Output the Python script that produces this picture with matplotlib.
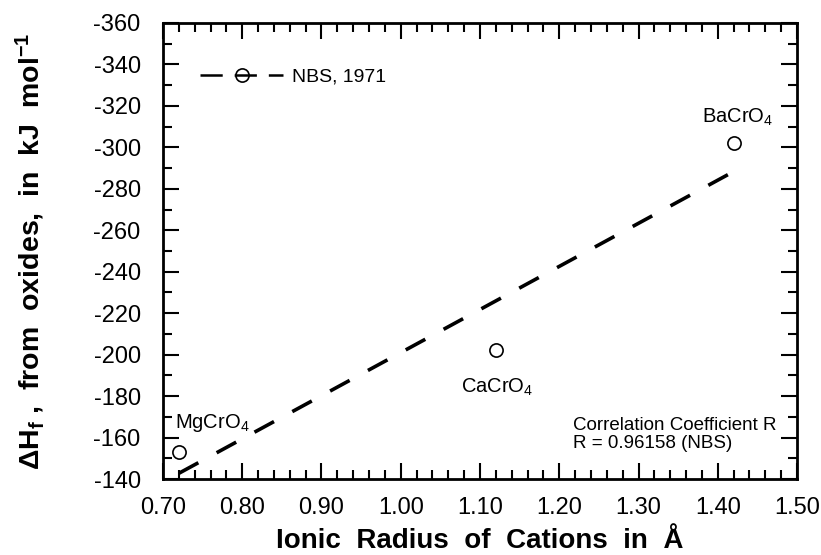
import matplotlib
matplotlib.use("Agg")
import matplotlib.pyplot as plt
from matplotlib.lines import Line2D
from matplotlib.ticker import MultipleLocator, FormatStrFormatter
import numpy as np

plt.rcParams["font.family"] = ["Liberation Sans", "DejaVu Sans"]
plt.rcParams["mathtext.default"] = "regular"
plt.rcParams["axes.unicode_minus"] = False

# ---------------------------------------------------------------------------
# Data
# ---------------------------------------------------------------------------
radius = [0.72, 1.12, 1.42]          # ionic radius of cation, Angstrom
dH_ox = [-153, -202, -302]           # enthalpy of formation from oxides, kJ/mol
compounds = ["MgCrO$_4$", "CaCrO$_4$", "BaCrO$_4$"]
R_TEXT = "Correlation Coefficient R\nR = 0.96158 (NBS)"
SERIES = "NBS, 1971"

# least-squares line through the three points
slope, icpt = np.polyfit(radius, dH_ox, 1)
x_fit = np.array([min(radius), max(radius)])
y_fit = slope * x_fit + icpt

# ---------------------------------------------------------------------------
# Figure
# ---------------------------------------------------------------------------
fig = plt.figure(figsize=(8.21, 5.55), dpi=100)
ax = fig.add_axes([0.1985, 0.1369, 0.7723, 0.8217])

lw_fit = 2.6
ax.plot(x_fit, y_fit, color="black", linewidth=lw_fit,
        dashes=(16.0 / lw_fit, 15.0 / lw_fit), solid_capstyle="butt")
ax.plot(radius, dH_ox, linestyle="none", marker="o", markersize=9.5,
        markerfacecolor="none", markeredgecolor="black", markeredgewidth=1.2)

# compound labels (offsets in points from each point)
offsets = [(-3, 17, "left", "baseline"),
           (1, -19, "center", "top"),
           (3, 15, "center", "baseline")]
for x, y, name, (dx, dy, ha, va) in zip(radius, dH_ox, compounds, offsets):
    ax.annotate(name, (x, y), xytext=(dx, dy), textcoords="offset points",
                ha=ha, va=va, fontsize=14.5)

ax.text(0.646, 0.097, R_TEXT, transform=ax.transAxes, ha="left", va="center",
        fontsize=13.5, linespacing=1.1)

# axes
ax.set_xlim(0.70, 1.50)
ax.set_ylim(-140, -360)
ax.xaxis.set_major_locator(MultipleLocator(0.1))
ax.xaxis.set_minor_locator(MultipleLocator(0.02))
ax.xaxis.set_major_formatter(FormatStrFormatter("%.2f"))
ax.yaxis.set_major_locator(MultipleLocator(20))
ax.yaxis.set_minor_locator(MultipleLocator(10))

ax.tick_params(which="both", direction="in", top=True, right=True, width=1.5)
ax.tick_params(which="major", length=11.5, labelsize=17)
ax.tick_params(which="minor", length=6.5)
ax.tick_params(axis="x", which="major", pad=13)
ax.tick_params(axis="y", which="major", pad=16)
for sp in ax.spines.values():
    sp.set_linewidth(2.0)

ax.set_xlabel("Ionic  Radius  of  Cations  in  Å", fontsize=20,
              fontweight="bold", labelpad=6.5)
ax.set_ylabel("ΔH$_f$ ,  from  oxides,  in  kJ  mol$^{-1}$", fontsize=20.5,
              fontweight="bold")
ax.yaxis.set_label_coords(-0.183, 0.5)

# legend
lw_leg = 1.8
handle = Line2D([], [], color="black", linewidth=lw_leg,
                dashes=(16.0 / lw_leg, 8.6 / lw_leg),
                marker="o", markersize=9.5, markerfacecolor="none",
                markeredgewidth=1.2)
ax.legend([handle], [SERIES], loc="center left", bbox_to_anchor=(0.058, 0.882),
          frameon=False, fontsize=14, borderpad=0, borderaxespad=0,
          handlelength=4.3, handletextpad=0.46)

fig.savefig("out.png", dpi=100)
